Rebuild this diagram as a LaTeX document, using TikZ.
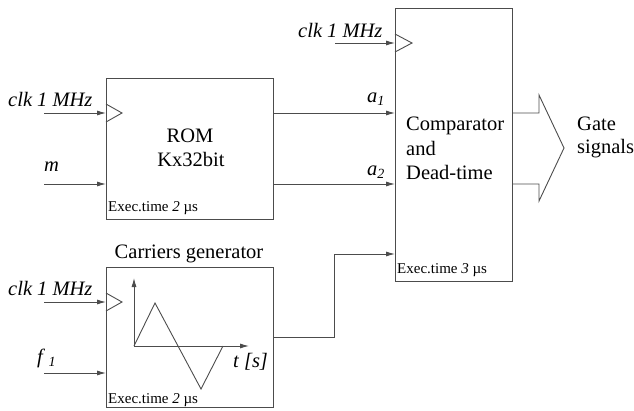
\documentclass[tikz,border=0pt]{standalone}
\usepackage{fontspec}
\setmainfont{Liberation Serif}
\usetikzlibrary{arrows.meta}
\definecolor{lc}{gray}{0.3}
\newcommand{\bigf}{\fontsize{20.5}{24}\selectfont}
\newcommand{\smf}{\fontsize{15}{17}\selectfont}
\newcommand{\subtxt}[1]{\raisebox{-0.35ex}{\fontsize{14}{14}\selectfont\textit{#1}}}
\begin{document}
\begin{tikzpicture}[x=1pt,y=-1pt,
  blk/.style={draw=lc,line width=0.9pt,rectangle,inner sep=0pt},
  sig/.style={draw=lc,line width=0.9pt,-{Latex[length=9pt,width=5pt]}},
  lne/.style={draw=lc,line width=0.9pt},
  lbl/.style={font=\bigf,inner sep=0pt,anchor=base west},
  sml/.style={font=\smf,inner sep=0pt,anchor=base west}]
\useasboundingbox (0,0) rectangle (634,410);
% boxes
\node[blk,minimum width=167pt,minimum height=141pt] (rom) at (189.5,148.5) {};
\node[blk,minimum width=167pt,minimum height=140pt] (car) at (189.5,337) {};
\node[blk,minimum width=117pt,minimum height=273pt] (cmp) at (453.5,144.5) {};
% box texts
\node[font=\bigf,inner sep=0pt,anchor=base] (romt) at (190,142) {ROM};
\node[font=\bigf,inner sep=0pt,anchor=base] (romk) at (191,166) {Kx32bit};
\node[sml] (rome) at (108,211) {Exec.time \textit{2} µs};
\node[font=\bigf,inner sep=0pt,anchor=base] (cart) at (189,258) {Carriers generator};
\node[sml] (care) at (108,403) {Exec.time \textit{2} µs};
\node[lbl] (c1) at (406,130) {Comparator};
\node[lbl] (c2) at (406,155) {and};
\node[lbl] (c3) at (406,179) {Dead-time};
\node[sml] (cmpe) at (397,273) {Exec.time \textit{3} µs};
\node[lbl] (g1) at (577,130) {Gate};
\node[lbl] (g2) at (577,153) {signals};
% input labels
\node[lbl] (l1) at (8,106) {\textit{clk 1 MHz}};
\node[lbl] (l2) at (44,171) {\textit{m}};
\node[lbl] (l3) at (8,295) {\textit{clk 1 MHz}};
\node[lbl] (l4) at (37,363) {\textit{f}\,\subtxt{1}};
\node[lbl] (l5) at (298,37) {\textit{clk 1 MHz}};
\node[lbl] (la1) at (367,102) {\textit{a}\subtxt{1}};
\node[lbl] (la2) at (367,175) {\textit{a}\subtxt{2}};
\node[lbl] (lt) at (233,367) {\textit{t [s]}};
% coordinates
\coordinate (i1) at (44,113); \coordinate (e1) at (106,113);
\coordinate (i2) at (44,184); \coordinate (e2) at (106,184);
\coordinate (i3) at (44,302); \coordinate (e3) at (106,302);
\coordinate (i4) at (44,373); \coordinate (e4) at (106,373);
\coordinate (i5) at (335,43); \coordinate (e5) at (395,43);
\coordinate (o1) at (273,113); \coordinate (ea1) at (395,113);
\coordinate (o2) at (273,184); \coordinate (ea2) at (395,184);
\coordinate (o3) at (273,337); \coordinate (k1) at (334,337);
\coordinate (k2) at (334,254); \coordinate (ea3) at (395,254);
% connectors
\draw[sig] (i1) -- (e1);
\draw[sig] (i2) -- (e2);
\draw[sig] (i3) -- (e3);
\draw[sig] (i4) -- (e4);
\draw[sig] (i5) -- (e5);
\draw[sig] (o1) -- (ea1);
\draw[sig] (o2) -- (ea2);
\draw[sig] (o3) -- (k1) -- (k2) -- (ea3);
% clock triangles
\draw[lne] (106,104) -- (122,113) -- (106,122);
\draw[lne] (106,293) -- (122,302) -- (106,311);
\draw[lne] (395,34) -- (412,43) -- (395,52);
% gate arrow
\draw[lne] (512,113) -- (539,113) -- (539,95) -- (564,148) -- (539,201) -- (539,184) -- (512,184);
% carrier waveform
\coordinate (org) at (134,346);
\draw[sig] (org) -- (134,278);
\draw[sig] (org) -- (249,346);
\draw[lne] (org) -- (155,303) -- (201,389) -- (223,346);
\end{tikzpicture}
\end{document}
